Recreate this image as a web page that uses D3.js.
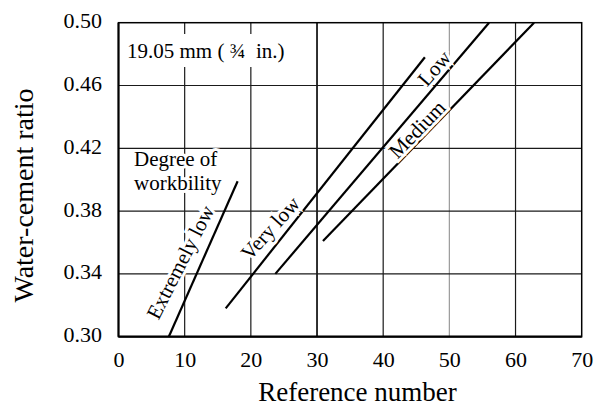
<!DOCTYPE html>
<html>
<head>
<meta charset="utf-8">
<script src="https://cdn.jsdelivr.net/npm/d3@7"></script>
<style>
  html, body { margin: 0; padding: 0; background: #fff; }
  svg { display: block; }
  svg text { font-family: "Liberation Serif", Tinos, "Times New Roman", Times, "DejaVu Serif", serif !important; fill: #000; }
</style>
</head>
<body>
<svg id="chart" width="594" height="409"></svg>
<script>
// Workability curves: water-cement ratio vs. reference number (19.05 mm aggregate)
const seriesNames = ["Extremely low", "Very low", "Low", "Medium"];
const refNumbers = [
  [7.6, 18.0],
  [16.2, 46.3],
  [23.7, 56.0],
  [30.9, 62.8]
];
const wcRatios = [
  [0.300, 0.399],
  [0.318, 0.478],
  [0.340, 0.500],
  [0.361, 0.500]
];
const xTicks = [0, 10, 20, 30, 40, 50, 60, 70];
const yTicks = [0.30, 0.34, 0.38, 0.42, 0.46, 0.50];
const yTickLabels = ["0.30", "0.34", "0.38", "0.42", "0.46", "0.50"];

const svg = d3.select("#chart");
const plotL = 118.5, plotR = 581.7, plotT = 22.7, plotB = 336.7;

const x = d3.scaleLinear().domain([0, 70]).range([plotL, plotR]);
const y = d3.scaleLinear().domain([0.30, 0.50]).range([plotB, plotT]);

// grid
const grid = svg.append("g");
grid.selectAll("line.v").data(xTicks.slice(1, -1)).join("line")
  .attr("x1", d => x(d)).attr("x2", d => x(d))
  .attr("y1", plotT).attr("y2", plotB)
  .attr("stroke", d => d === 50 ? "#9a9a9a" : "#1a1a1a")
  .attr("stroke-width", d => d === 30 ? 1.8 : 1.2);
grid.selectAll("line.h").data(yTicks.slice(1, -1)).join("line")
  .attr("x1", plotL).attr("x2", plotR)
  .attr("y1", d => y(d)).attr("y2", d => y(d))
  .attr("stroke", "#1a1a1a").attr("stroke-width", 1.2);

// curves
const line = d3.line().x(d => x(d[0])).y(d => y(d[1]));
svg.append("g").selectAll("path").data(seriesNames).join("path")
  .attr("d", (n, i) => line(refNumbers[i].map((r, j) => [r, wcRatios[i][j]])))
  .attr("fill", "none").attr("stroke", "#000").attr("stroke-width", 2.2);

// frame
svg.append("rect")
  .attr("x", plotL).attr("y", plotT)
  .attr("width", plotR - plotL).attr("height", plotB - plotT)
  .attr("fill", "none").attr("stroke", "#000").attr("stroke-width", 1.5);
svg.append("line").attr("x1", plotL).attr("x2", plotR)
  .attr("y1", plotB).attr("y2", plotB)
  .attr("stroke", "#000").attr("stroke-width", 2.2);
svg.append("line").attr("x1", plotL).attr("x2", plotL)
  .attr("y1", plotT).attr("y2", plotB)
  .attr("stroke", "#000").attr("stroke-width", 2);

// tick labels
const xAxis = d3.axisBottom(x).tickValues(xTicks).tickSize(0).tickPadding(0).tickFormat(d3.format("d"));
const gx = svg.append("g").attr("transform", `translate(0,${plotB})`).call(xAxis)
  .attr("font-family", null).attr("font-size", null);
gx.select(".domain").remove();
gx.selectAll("text").attr("y", 30).attr("dy", null).style("font-size", "22px");

const yAxis = d3.axisLeft(y).tickValues(yTicks).tickSize(0).tickPadding(0)
  .tickFormat((d, i) => yTickLabels[i]);
const gy = svg.append("g").attr("transform", `translate(102,0)`).call(yAxis)
  .attr("font-family", null).attr("font-size", null);
gy.select(".domain").remove();
gy.selectAll("text").attr("x", 0).attr("dy", null).attr("y", 5).style("font-size", "22px");

// axis titles
svg.append("text").attr("x", (258 + 457) / 2).attr("y", 401)
  .attr("text-anchor", "middle").style("font-size", "27px")
  .text("Reference number");
svg.append("text")
  .attr("transform", `translate(33,${(83 + 308) / 2}) rotate(-90)`)
  .attr("text-anchor", "middle").style("font-size", "28px")
  .text("Water-cement ratio");

// size note at upper left
svg.append("rect").attr("x", 123).attr("y", 34).attr("width", 170).attr("height", 33).attr("fill", "#fff");
svg.append("text").attr("x", 127).attr("y", 58).style("font-size", "21px")
  .text("19.05 mm (\u00a0\u00be\u00a0\u00a0in.)");

// series heading
const heading = svg.append("text").attr("x", 134).style("font-size", "21px")
  .attr("stroke", "#fff").attr("stroke-width", 6).attr("paint-order", "stroke");
heading.append("tspan").attr("x", 134).attr("y", 165.5).text("Degree of");
heading.append("tspan").attr("x", 134).attr("y", 190).text("workbility");

// curve labels along each line
const labelAt = [
  { rx: 9.3, wc: 0.3476, rot: -63 },
  { rx: 22.9, wc: 0.3692, rot: -48 },
  { rx: 47.7, wc: 0.4711, rot: -49 },
  { rx: 45.1, wc: 0.4322, rot: -46 }
];
svg.append("g").selectAll("text").data(seriesNames).join("text")
  .attr("transform", (n, i) => `translate(${x(labelAt[i].rx)},${y(labelAt[i].wc)}) rotate(${labelAt[i].rot})`)
  .attr("text-anchor", "middle").attr("dy", "0.35em")
  .style("font-size", "21px")
  .attr("stroke", "#fff").attr("stroke-width", 6).attr("paint-order", "stroke")
  .text(d => d);
</script>
</body>
</html>
